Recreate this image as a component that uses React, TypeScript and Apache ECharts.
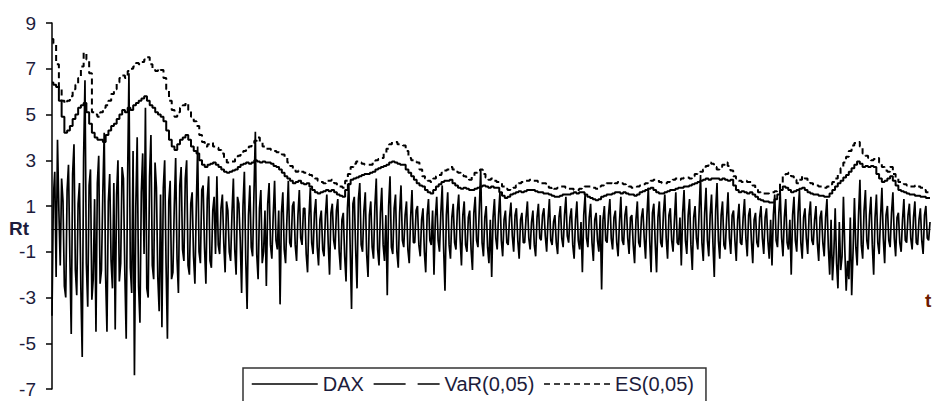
import React, { useEffect, useRef } from "react";
import * as echarts from "echarts";

const yTicks = [-7, -5, -3, -1, 1, 3, 5, 7, 9];
const seriesNames = ["DAX", "VaR(0,05)", "ES(0,05)"];

const dax = [
  -3.8, 1.4, 2.5, -2.1, 3.9, 0.8, -1.6, 2.2, 1.2, -2.5, -3.0, 1.7, 2.8, -1.2, -4.6, 2.4, 3.7, -1.8, -2.9, 1.1, 2.0, -2.6, -5.6, 3.1, 6.5, -1.5, -3.4, 1.9, 2.6, -3.1, -2.2, 1.3, -4.5, 2.0, 3.2, -2.4, -1.8, 1.6, 4.2, -2.0,
  -4.5, 1.2, 2.4, -1.4, -2.6, 2.0, -4.4, 1.5, 3.0, -2.3, -1.5, 2.7, 2.2, -1.9, -4.8, 2.1, 6.8, -1.7, -2.8, 3.4, -6.4, 1.0, 4.0, -2.5, -4.1, 1.6, 3.3, -1.1, 5.3, -2.6, -3.0, 2.3, 4.1, -1.6, -2.2, 2.9, 1.8, -2.1, -3.6, 1.5,
  -4.3, 1.8, 3.0, -1.5, -4.8, 1.2, 2.1, -2.2, -1.9, 1.0, 3.1, -1.3, -2.8, 1.9, 2.7, -0.9, -1.4, 2.2, 3.0, -1.6, -2.0, 1.1, 1.6, -1.2, -2.4, 0.9, 3.6, -1.0, -1.5, 1.7, 1.9, -0.8, -2.4, 1.3, 2.3, -1.4, -1.7, 0.8, 1.4, -1.1,
  2.3, -0.7, -1.1, 0.9, 1.5, -0.6, -1.9, 1.2, 0.8, -1.0, -1.4, 0.7, 2.2, -0.9, -2.0, 1.4, 1.1, -0.5, -2.8, 1.0, 2.5, -1.3, -3.5, 0.6, 1.9, -0.8, -1.2, 1.6, 4.25, -1.1, -2.2, 0.9, 1.7, -1.5, -1.0, 0.8, -2.5, 1.1, 2.0, -0.7,
  -1.3, 0.6, 2.1, -0.5, -0.9, 0.8, -3.3, 0.7, 1.6, -0.9, -1.5, 0.5, 2.1, -0.6, -0.8, 1.0, 1.2, -0.7, -1.4, 0.6, 1.7, -0.4, -0.7, 0.9, 0.9, -1.1, -1.9, 0.5, 1.8, -0.6, -1.1, 0.7, 1.3, -0.8, -1.6, 0.4, 0.8, -0.9, -1.2, 0.6,
  1.5, -0.6, -2.0, 0.7, 1.1, -0.5, -0.9, 0.8, 1.3, -1.0, -1.8, 0.4, 0.7, -1.2, -2.3, 0.9, 2.0, -0.8, -3.5, 1.1, 1.4, -0.9, -2.6, 1.3, 2.0, -0.7, -1.0, 0.8, 1.6, -1.1, -2.1, 0.6, 1.2, -0.8, -1.3, 1.0, 2.2, -0.9, -1.6, 0.7,
  1.8, -0.7, -1.4, 0.6, -2.9, 1.0, 2.3, -0.8, -1.1, 0.9, 1.5, -1.0, -1.7, 0.7, 1.9, -0.5, -0.8, 0.6, 1.2, -0.9, -1.5, 0.5, 1.7, -0.6, -0.6, 0.8, 1.0, -0.7, -1.2, 0.4, 0.9, -1.0, -1.9, 0.6, 1.3, -0.5, -0.7, 0.8, -2.0, 0.5,
  1.4, -0.5, -1.0, 0.7, 1.9, -0.8, -2.7, 0.6, 1.6, -0.7, -1.3, 0.5, 1.1, -0.6, -0.9, 0.8, 1.5, -0.4, -1.6, 0.6, 1.2, -0.7, -1.0, 0.5, 0.8, -0.9, -1.8, 0.7, 1.4, -0.5, -0.8, 0.9, 2.6, -0.6, -1.2, 0.5, 1.0, -0.8, -1.5, 0.4,
  -2.1, 0.5, 1.3, -0.4, -0.9, 0.6, 1.6, -0.5, -1.2, 0.4, 0.8, -0.6, -0.7, 0.5, 1.15, -0.3, -1.0, 0.6, 0.9, -0.5, -1.3, 0.4, 0.7, -0.6, -0.6, 0.5, 1.2, -0.4, -0.9, 0.3, 0.8, -0.7, -1.2, 0.5, 1.1, -0.4, -0.5, 0.6, 0.9, -0.3,
  -1.0, 0.4, 1.3, -0.5, -0.7, 0.3, 0.6, -0.6, -1.1, 0.5, 1.0, -0.4, -0.8, 0.6, 1.4, -0.3, -0.6, 0.5, 0.9, -0.7, -1.3, 0.4, 1.2, -0.5, -0.9, 0.3, -1.9, 0.6, 1.5, -0.4, -0.8, 0.5, 1.1, -0.6, -1.4, 0.4, 0.7, -0.5, -1.0, 0.6,
  -2.65, 0.4, 1.0, -0.5, -0.6, 0.6, 1.3, -0.4, -0.9, 0.5, 0.8, -0.6, -1.2, 0.3, 1.4, -0.5, -0.7, 0.6, 1.0, -0.4, -1.1, 0.5, 0.6, -0.7, -1.5, 0.4, 1.2, -0.6, -0.8, 0.5, 0.9, -0.4, -1.3, 0.6, 1.8, -0.5, -1.9, 0.7, 1.1, -0.6,
  -1.9, 0.5, 1.2, -0.6, -0.8, 0.7, 1.5, -0.4, -1.3, 0.6, 0.9, -0.5, -1.0, 0.4, 1.6, -0.6, -0.7, 0.5, -1.6, 0.7, 1.7, -0.5, -1.1, 0.6, 1.3, -0.7, -1.8, 0.5, 1.0, -0.4, -0.9, 0.8, 2.35, -0.6, -1.4, 0.7, 1.8, -0.5, -1.2, 0.6,
  1.5, -0.6, -2.1, 0.8, 2.0, -0.5, -1.3, 0.6, 1.2, -0.7, -0.9, 0.5, 1.6, -0.4, -1.1, 0.6, 0.8, -0.5, -1.4, 0.4, 1.1, -0.6, -0.7, 0.5, 1.3, -0.4, -1.2, 0.6, 0.9, -0.5, -1.5, 0.4, 0.7, -0.6, -0.8, 0.5, 1.0, -0.4, -1.1, 0.5,
  0.9, -0.5, -1.3, 0.4, -1.6, 0.6, 1.5, -0.5, -0.8, 0.7, 1.6, -0.4, -1.2, 0.5, 1.3, -0.6, -0.9, 0.4, -2.0, 0.6, 1.4, -0.5, -1.0, 0.7, 1.7, -0.6, -1.3, 0.5, 0.9, -0.4, -1.1, 0.6, 1.2, -0.5, -0.7, 0.4, 1.0, -0.6, -1.4, 0.5,
  0.8, -0.6, -1.2, 0.5, 1.3, -0.8, -2.0, 0.4, -2.25, -1.1, 0.9, -1.5, -2.6, 0.3, -1.8, -1.2, 1.4, -0.9, -2.7, -1.4, -2.2, 0.5, -2.9, -1.0, 1.35, -0.8, -1.6, 0.6, 2.15, -0.7, -1.3, 0.8, 1.7, -0.5, -0.9, 0.6, 1.4, -0.7, -2.0, 0.5,
  1.5, -0.6, -1.1, 0.5, 1.8, -0.4, -1.5, 0.6, 1.0, -0.5, -0.8, 0.7, 1.6, -0.4, -1.2, 0.5, 0.7, -0.6, -1.0, 0.4, 1.3, -0.5, -0.6, 0.6, 1.1, -0.4, -0.9, 0.5, 1.2, -0.6, -0.7, 0.4, 0.9, -0.5, -1.1, 0.6, 1.0, -0.4, -0.5, 0.3,
];

const varSeries = [
  6.4, 6.3, 6.2, 5.6, 4.9, 4.2, 4.3, 4.5, 4.8, 5.0, 5.3, 5.4, 5.5, 5.1, 4.6, 4.2, 4.0, 3.9, 3.9, 3.8,
  4.1, 4.3, 4.5, 4.6, 4.8, 5.0, 5.2, 5.1, 5.3, 5.2, 5.4, 5.5, 5.6, 5.7, 5.8, 5.6, 5.4, 5.3, 5.1, 5.0,
  4.9, 4.7, 4.3, 3.9, 3.6, 3.45, 3.7, 3.9, 4.0, 4.1, 3.9, 3.6, 3.4, 3.3, 3.0, 2.8, 2.7, 2.8, 2.85, 2.9,
  2.8, 2.7, 2.6, 2.5, 2.45, 2.5, 2.55, 2.6, 2.7, 2.8, 2.85, 2.9, 2.85, 2.9, 3.0, 2.95, 2.9, 2.95, 2.9, 2.9,
  2.85, 2.75, 2.7, 2.6, 2.45, 2.3, 2.2, 2.1, 2.0, 2.05, 2.1, 2.0, 1.95, 2.0, 1.85, 1.7, 1.6, 1.55, 1.6, 1.65,
  1.7, 1.65, 1.7, 1.6, 1.5, 1.45, 1.4, 1.7, 1.95, 2.15, 2.2, 2.25, 2.3, 2.35, 2.4, 2.4, 2.45, 2.5, 2.6, 2.65,
  2.7, 2.75, 2.8, 2.9, 2.95, 2.9, 2.85, 2.8, 2.8, 2.6, 2.45, 2.3, 2.15, 2.0, 1.9, 1.85, 1.7, 1.6, 1.55, 1.7,
  1.85, 1.95, 2.05, 2.1, 2.1, 2.15, 2.0, 1.9, 1.8, 1.75, 1.8, 1.75, 1.7, 1.7, 1.75, 1.8, 1.85, 1.9, 1.85, 1.8,
  1.85, 1.8, 1.8, 1.6, 1.45, 1.35, 1.4, 1.5, 1.55, 1.6, 1.65, 1.6, 1.65, 1.7, 1.7, 1.7, 1.65, 1.6, 1.6, 1.55,
  1.55, 1.5, 1.45, 1.4, 1.4, 1.45, 1.5, 1.5, 1.5, 1.55, 1.6, 1.55, 1.6, 1.6, 1.5, 1.4, 1.35, 1.3, 1.25, 1.3,
  1.4, 1.45, 1.5, 1.5, 1.55, 1.6, 1.6, 1.55, 1.6, 1.55, 1.5, 1.5, 1.45, 1.5, 1.6, 1.65, 1.7, 1.75, 1.8, 1.7,
  1.6, 1.55, 1.55, 1.6, 1.65, 1.7, 1.7, 1.75, 1.8, 1.8, 1.85, 1.85, 1.9, 1.95, 2.0, 2.05, 2.1, 2.15, 2.2, 2.15,
  2.2, 2.2, 2.2, 2.15, 2.2, 2.15, 2.1, 2.15, 1.9, 1.7, 1.6, 1.65, 1.6, 1.55, 1.6, 1.5, 1.4, 1.3, 1.25, 1.2,
  1.2, 1.15, 1.15, 1.3, 1.5, 1.7, 1.85, 1.8, 1.7, 1.6, 1.65, 1.7, 1.75, 1.8, 1.7, 1.6, 1.55, 1.5, 1.5, 1.45,
  1.45, 1.4, 1.4, 1.55, 1.7, 1.85, 2.0, 2.1, 2.25, 2.35, 2.5, 2.65, 2.8, 2.95, 2.85, 2.7, 2.75, 2.7, 2.75, 2.7,
  2.4, 2.2, 2.05, 2.1, 2.2, 2.3, 2.1, 1.9, 1.7, 1.65, 1.6, 1.55, 1.5, 1.5, 1.45, 1.45, 1.4, 1.4, 1.35, 1.35,
];

const esSeries = [
  8.3, 8.1, 7.2, 6.2, 5.6, 5.5, 5.6, 5.8, 6.1, 6.3, 6.6, 7.1, 7.7, 7.4, 6.8, 5.1, 5.0, 4.9, 5.1, 5.3,
  5.4, 5.6, 5.9, 6.1, 6.4, 6.6, 6.7, 6.6, 6.9, 7.0, 7.1, 7.25, 7.2, 7.3, 7.4, 7.5, 7.2, 7.0, 6.9, 7.0,
  6.95, 6.6, 6.1, 5.6, 5.2, 4.9, 5.1, 5.3, 5.4, 5.5, 5.2, 4.9, 4.7, 4.5, 4.1, 3.8, 3.6, 3.7, 3.75, 3.6,
  3.55, 3.45, 3.3, 3.1, 2.9, 2.95, 2.95, 3.1, 3.2, 3.3, 3.4, 3.5, 3.6, 3.75, 3.85, 4.0, 3.8, 3.6, 3.5, 3.5,
  3.45, 3.4, 3.35, 3.3, 3.25, 3.1, 2.9, 2.75, 2.6, 2.5, 2.55, 2.5, 2.45, 2.4, 2.35, 2.3, 2.2, 2.1, 2.05, 2.0,
  2.1, 2.1, 2.15, 2.0, 1.9, 1.85, 1.8, 2.1, 2.4, 2.7, 2.85, 2.95, 2.9, 2.85, 2.8, 2.8, 2.8, 2.9, 3.0, 3.05,
  3.1, 3.3, 3.5, 3.7, 3.8, 3.8, 3.7, 3.7, 3.65, 3.4, 3.1, 3.0, 2.95, 2.9, 2.6, 2.3, 2.2, 2.1, 2.05, 2.2,
  2.3, 2.35, 2.45, 2.55, 2.6, 2.7, 2.6, 2.5, 2.45, 2.35, 2.3, 2.2, 2.15, 2.3, 2.45, 2.5, 2.6, 2.4, 2.25, 2.15,
  2.2, 2.1, 2.05, 2.0, 1.85, 1.75, 1.7, 1.75, 1.8, 1.9, 2.0, 2.05, 2.1, 2.1, 2.15, 2.1, 2.1, 2.05, 2.0, 2.0,
  1.9, 1.8, 1.7, 1.75, 1.8, 1.85, 1.85, 1.8, 1.75, 1.75, 1.7, 1.7, 1.75, 1.8, 1.85, 1.85, 1.85, 1.8, 1.75, 1.85,
  1.9, 1.95, 2.0, 2.0, 1.95, 2.0, 2.05, 2.0, 1.95, 1.9, 1.85, 1.8, 1.8, 1.85, 1.9, 1.95, 2.0, 2.05, 2.1, 2.15,
  2.15, 2.05, 2.0, 2.0, 2.05, 2.1, 2.15, 2.2, 2.15, 2.2, 2.25, 2.25, 2.2, 2.3, 2.4, 2.45, 2.5, 2.6, 2.75, 2.9,
  2.85, 2.7, 2.6, 2.7, 2.8, 2.9, 2.75, 2.55, 2.3, 2.2, 2.1, 2.05, 2.1, 2.05, 2.05, 1.9, 1.75, 1.6, 1.55, 1.55,
  1.55, 1.6, 1.6, 1.65, 1.7, 2.0, 2.35, 2.4, 2.45, 2.3, 2.15, 2.0, 2.15, 2.3, 2.2, 2.1, 2.0, 1.9, 1.9, 1.85,
  1.85, 1.8, 1.85, 1.95, 2.05, 2.2, 2.4, 2.65, 2.9, 3.15, 3.4, 3.65, 3.75, 3.8, 3.6, 3.3, 3.2, 3.1, 3.0, 3.05,
  3.1, 2.9, 2.7, 2.55, 2.5, 2.7, 2.4, 2.2, 2.05, 2.0, 1.95, 1.9, 1.85, 1.85, 1.9, 1.85, 1.8, 1.7, 1.6, 1.5,
];

const FONT = "'Liberation Sans', Arial, sans-serif";
const LABEL_COLOR = "#1c1c3c";

export default function App() {
  const ref = useRef<HTMLDivElement>(null);

  useEffect(() => {
    document.body.style.margin = "0";
    if (!ref.current) return;
    const chart = echarts.init(ref.current, null, { renderer: "svg" });
    const lastT = dax.length - 1;
    const step = lastT / (varSeries.length - 1);
    const daxData = dax.map((v, i) => [i, v]);
    const varData = varSeries.map((v, i) => [i * step, v]);
    const esData = esSeries.map((v, i) => [i * step, v]);
    chart.setOption({
      animation: false,
      backgroundColor: "#ffffff",
      grid: { left: 52, right: 2, top: 23, bottom: 12, containLabel: false },
      xAxis: {
        type: "value",
        min: 0,
        max: lastT,
        axisLine: { show: true, onZero: true, lineStyle: { color: "#000", width: 1 } },
        axisTick: { show: false },
        axisLabel: { show: false },
        splitLine: { show: false },
      },
      yAxis: {
        type: "value",
        min: yTicks[0],
        max: yTicks[yTicks.length - 1],
        interval: 2,
        axisLine: { show: true, lineStyle: { color: "#000", width: 1.5 } },
        axisTick: { show: true, length: 6, lineStyle: { color: "#000", width: 1.5 } },
        axisLabel: { fontSize: 19, color: LABEL_COLOR, margin: 16, fontFamily: FONT },
        splitLine: { show: false },
      },
      legend: {
        data: [
          { name: seriesNames[0] },
          { name: seriesNames[1], lineStyle: { type: [32, 12] } },
          { name: seriesNames[2], lineStyle: { type: [6, 4] } },
        ],
        left: 243,
        top: 368,
        padding: [6, 12, 20, 8],
        borderColor: "#333",
        borderWidth: 1.5,
        itemWidth: 66,
        itemHeight: 12,
        itemGap: 9,
        itemStyle: { opacity: 0, color: "transparent", borderColor: "transparent", borderWidth: 0 },
        lineStyle: { width: 1.5 },
        textStyle: { fontSize: 20, color: LABEL_COLOR, fontFamily: FONT },
      },
      graphic: [
        {
          type: "text",
          left: 9,
          top: 219,
          style: { text: "Rt", fontSize: 19, fontWeight: "bold", fill: LABEL_COLOR, fontFamily: FONT },
        },
        {
          type: "text",
          left: 925,
          top: 291,
          style: { text: "t", fontSize: 19, fontWeight: "bold", fill: "#6b1a00", fontFamily: FONT },
        },
      ],
      series: [
        {
          name: seriesNames[0],
          type: "line",
          data: daxData,
          symbol: "none",
          showSymbol: false,
          itemStyle: { color: "#000" },
          lineStyle: { color: "#000", width: 1.7 },
          z: 2,
        },
        {
          name: seriesNames[1],
          type: "line",
          data: varData,
          step: "middle",
          symbol: "none",
          showSymbol: false,
          itemStyle: { color: "#000" },
          lineStyle: { color: "#000", width: 2 },
          z: 3,
        },
        {
          name: seriesNames[2],
          type: "line",
          data: esData,
          step: "middle",
          symbol: "none",
          showSymbol: false,
          itemStyle: { color: "#000" },
          lineStyle: { color: "#000", width: 2, type: [6, 4] },
          z: 3,
        },
      ],
    });
    return () => chart.dispose();
  }, []);

  return <div ref={ref} style={{ width: 932, height: 401 }} />;
}
